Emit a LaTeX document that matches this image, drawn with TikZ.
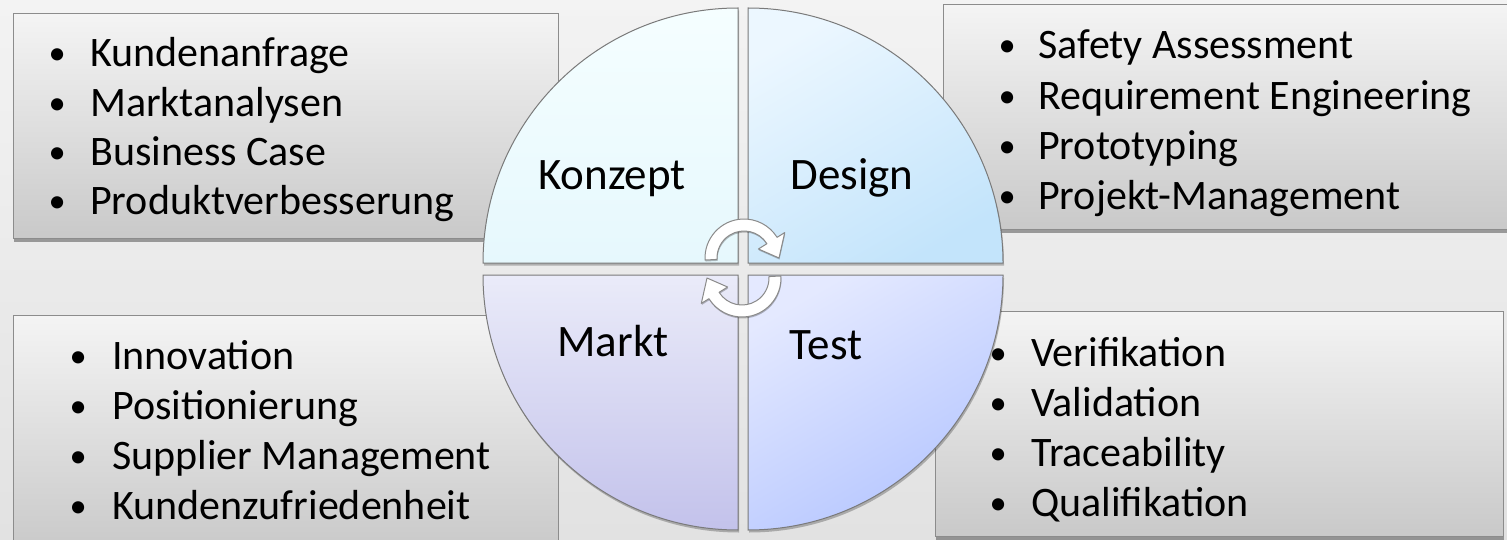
\documentclass[tikz,border=0pt]{standalone}
\usepackage{fontspec}
\usepackage{graphicx}
\setmainfont{Carlito}
\usetikzlibrary{shadows}
\definecolor{bgtop}{HTML}{F3F3F3}
\definecolor{bgbot}{HTML}{E2E2E2}
\definecolor{boxtop}{HTML}{F4F4F4}
\definecolor{boxbot}{HTML}{C9C9C9}
\definecolor{boxline}{HTML}{8C8C8C}
\definecolor{quadline}{HTML}{7A7A7A}
\definecolor{arrline}{HTML}{8A8A8A}
\newcommand{\bul}{\makebox[0pt]{\raisebox{2pt}{\scalebox{0.82}{•}}}}
\begin{document}
\begin{tikzpicture}[x=1pt,y=1pt,
  listbox/.style={draw=boxline, line width=1.3pt, top color=boxtop, bottom color=boxbot,
    anchor=north west, inner sep=0pt,
    drop shadow={shadow xshift=0.5pt, shadow yshift=-3.5pt, opacity=0.35, fill=black}},
  item/.style={anchor=base west, inner sep=0pt, font=\fontsize{42}{49}\selectfont},
  quad/.style={draw=quadline, line width=1pt,
    drop shadow={shadow xshift=1pt, shadow yshift=-2.5pt, opacity=0.25, fill=black}},
  qlabel/.style={anchor=base, inner sep=0pt, font=\fontsize{45}{54}\selectfont},
  cyc/.style={fill=white, draw=arrline, line width=1pt, line join=round,
    drop shadow={shadow xshift=0.5pt, shadow yshift=-1.5pt, opacity=0.25, fill=black}}]
\useasboundingbox (0,0) rectangle (1507,539);
\clip (0,0) rectangle (1507,539);
\shade[top color=bgtop, bottom color=bgbot] (0,0) rectangle (1507,539);

% list boxes
\node[listbox, minimum width=545pt, minimum height=225pt] (tlbox) at (13,526) {};
\node[listbox, minimum width=575pt, minimum height=225pt] (trbox) at (943,535) {};
\node[listbox, minimum width=545pt, minimum height=235pt] (blbox) at (13,224) {};
\node[listbox, minimum width=568pt, minimum height=225pt] (brbox) at (935,228) {};

% items
\foreach \t [count=\i] in {Kundenanfrage, Marktanalysen, Business Case, Produktverbesserung}
  \node[item] (tl\i) at (57, {472-(\i-1)*49.3}) {\bul\hspace{33pt}\t};
\foreach \t [count=\i] in {Safety Assessment, Requirement Engineering, Prototyping, Projekt-Management}
  \node[item] (tr\i) at (1007, {480-(\i-1)*50.3}) {\bul\hspace{31pt}\t};
\foreach \t [count=\i] in {Innovation, Positionierung, Supplier Management, Kundenzufriedenheit}
  \node[item] (bl\i) at (78, {170-(\i-1)*50}) {\bul\hspace{34pt}\t};
\foreach \t [count=\i] in {Verifikation, Validation, Traceability, Qualifikation}
  \node[item] (br\i) at (998, {173-(\i-1)*50}) {\bul\hspace{33pt}\t};

% quadrants
\path[quad, top color={rgb,255:red,245;green,254;blue,255}, bottom color={rgb,255:red,230;green,248;blue,253}]
  (738,276) -- ++(180:255) arc[start angle=180, end angle=90, radius=255] -- cycle;
\path[quad, top color={rgb,255:red,236;green,247;blue,255}, bottom color={rgb,255:red,195;green,228;blue,251}, shading angle=30]
  (748,276) -- ++(90:255) arc[start angle=90, end angle=0, radius=255] -- cycle;
\path[quad, top color={rgb,255:red,234;green,235;blue,249}, bottom color={rgb,255:red,195;green,194;blue,235}]
  (738,264) -- ++(180:255) arc[start angle=180, end angle=270, radius=255] -- cycle;
\path[quad, top color={rgb,255:red,228;green,233;blue,255}, bottom color={rgb,255:red,180;green,197;blue,255}, shading angle=30]
  (748,264) -- ++(270:255) arc[start angle=270, end angle=360, radius=255] -- cycle;

% quadrant labels
\node[qlabel] (konzept) at (612,349) {Konzept};
\node[qlabel] (design) at (852,349) {Design};
\node[qlabel] (markt) at (613,183) {Markt};
\node[qlabel] (test) at (826,180) {Test};

% circular arrows
\begin{scope}[shift={(744,281)}]
  \path[cyc] (183:39) arc[start angle=183, end angle=32, radius=39]
    -- (32:48) -- (0:35) -- (32:17) -- (32:27)
    arc[start angle=32, end angle=183, radius=27] -- cycle;
\end{scope}
\begin{scope}[shift={(742,261)}]
  \path[cyc] (3:39) arc[start angle=3, end angle=-148, radius=39]
    -- (-148:48) -- (-180:35) -- (-148:17) -- (-148:27)
    arc[start angle=-148, end angle=3, radius=27] -- cycle;
\end{scope}
\end{tikzpicture}
\end{document}
